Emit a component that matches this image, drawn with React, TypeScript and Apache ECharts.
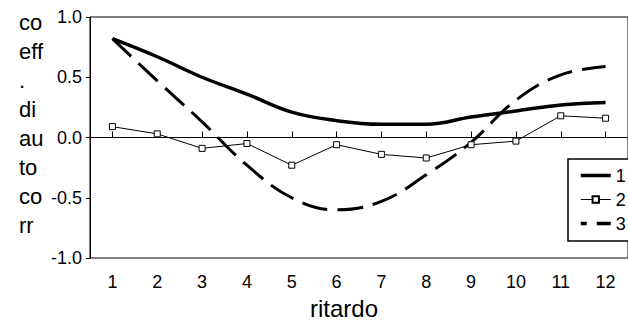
import React, { useEffect, useRef } from "react";
import * as echarts from "echarts";

const lags = ["1", "2", "3", "4", "5", "6", "7", "8", "9", "10", "11", "12"];
const series1 = [0.82, 0.67, 0.5, 0.36, 0.21, 0.14, 0.11, 0.11, 0.17, 0.22, 0.27, 0.29];
const series2 = [0.09, 0.03, -0.09, -0.05, -0.23, -0.06, -0.14, -0.17, -0.06, -0.03, 0.18, 0.16];
const series3 = [0.82, 0.47, 0.13, -0.23, -0.5, -0.6, -0.53, -0.31, -0.04, 0.31, 0.52, 0.59];
const seriesNames = ["1", "2", "3"];
const yNameLines = ["co", "eff", ".", "di", "au", "to", "co", "rr"];
const xName = "ritardo";

const FONT = 'Arial, "Liberation Sans", sans-serif';

export default function App() {
  const ref = useRef<HTMLDivElement>(null);
  useEffect(() => {
    if (!ref.current) return;
    const chart = echarts.init(ref.current, undefined, { renderer: "svg" });
    chart.setOption({
      animation: false,
      backgroundColor: "#ffffff",
      grid: {
        left: 90,
        top: 17,
        right: -19,
        bottom: 64,
        show: true,
        borderColor: "#000",
        borderWidth: 1,
        backgroundColor: "transparent",
      },
      legend: {
        left: 568,
        top: 159,
        orient: "vertical",
        padding: [7, 40, 8, 11],
        itemGap: 5,
        itemWidth: 30,
        itemHeight: 8,
        borderColor: "#000",
        borderWidth: 1.5,
        backgroundColor: "#fff",
        textStyle: { fontFamily: FONT, fontSize: 18, color: "#000", lineHeight: 19 },
        data: [
          { name: seriesNames[0], itemStyle: { opacity: 0 }, lineStyle: { width: 3.5, color: "#000" } },
          { name: seriesNames[1], lineStyle: { width: 1, color: "#000" } },
          {
            name: seriesNames[2],
            itemStyle: { opacity: 0 },
            lineStyle: { width: 3.5, color: "#000", type: [6, 10, 14, 10] },
          },
        ],
      },
      xAxis: {
        type: "category",
        data: lags,
        boundaryGap: true,
        axisLine: { show: true, lineStyle: { color: "#000", width: 1 } },
        axisTick: { show: true, alignWithLabel: true, inside: true, length: 6, lineStyle: { color: "#000" } },
        axisLabel: { fontFamily: FONT, fontSize: 18, color: "#000", margin: 15 },
        splitLine: { show: false },
      },
      yAxis: {
        type: "value",
        min: -1,
        max: 1,
        interval: 0.5,
        axisLine: { show: true, lineStyle: { color: "#000", width: 1 } },
        axisTick: { show: true, inside: false, length: 4, lineStyle: { color: "#000" } },
        axisLabel: {
          fontFamily: FONT,
          fontSize: 18,
          color: "#000",
          margin: 8,
          formatter: (v: number) => v.toFixed(1),
        },
        splitLine: { show: false },
      },
      series: [
        {
          name: seriesNames[0],
          type: "line",
          data: series1,
          smooth: 0.4,
          symbol: "none",
          lineStyle: { color: "#000", width: 3.5 },
          itemStyle: { color: "#000" },
          z: 3,
        },
        {
          name: seriesNames[1],
          type: "line",
          data: series2,
          smooth: false,
          symbol: "rect",
          symbolSize: 6,
          showSymbol: true,
          lineStyle: { color: "#000", width: 1 },
          itemStyle: { color: "#fff", borderColor: "#000", borderWidth: 1 },
          markLine: {
            silent: true,
            symbol: "none",
            label: { show: false },
            lineStyle: { color: "#000", width: 1, type: "solid" },
            data: [{ yAxis: 0 }],
          },
          z: 4,
        },
        {
          name: seriesNames[2],
          type: "line",
          data: series3,
          smooth: 0.4,
          symbol: "none",
          lineStyle: { color: "#000", width: 3, type: [26, 10] },
          itemStyle: { color: "#000" },
          z: 3,
        },
      ],
      graphic: [
        {
          type: "text",
          left: 19,
          top: 8,
          style: {
            text: yNameLines.join("\n"),
            fontFamily: FONT,
            fontSize: 22,
            lineHeight: 29,
            fill: "#000",
            align: "left",
          },
        },
        {
          type: "text",
          x: 344,
          y: 308,
          style: {
            text: xName,
            fontFamily: FONT,
            fontSize: 24,
            fill: "#000",
            align: "center",
            verticalAlign: "middle",
          },
        },
      ],
    });
    return () => chart.dispose();
  }, []);
  return (
    <div
      ref={ref}
      style={{ position: "absolute", left: 0, top: 0, width: 628, height: 322 }}
    />
  );
}
